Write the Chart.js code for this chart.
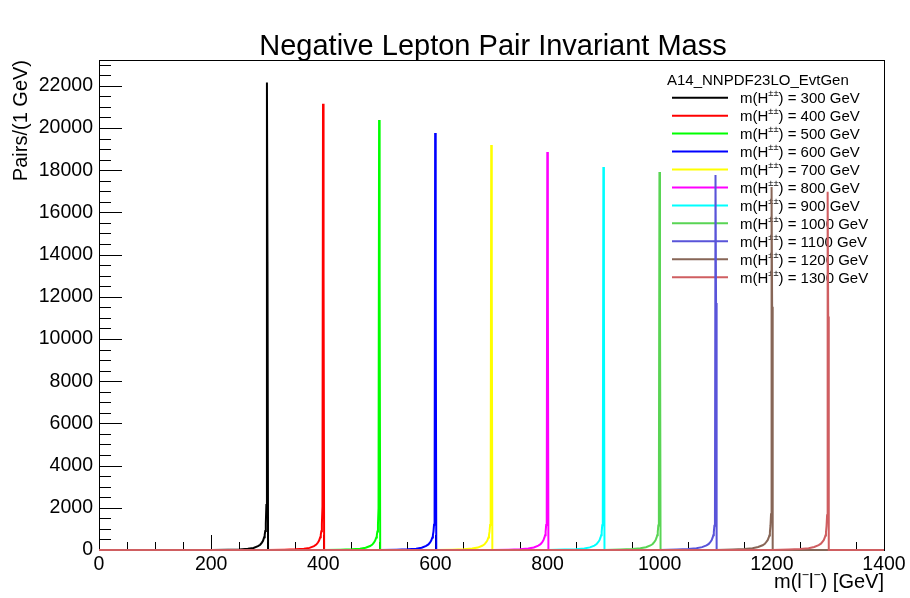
<!DOCTYPE html>
<html>
<head>
<meta charset="utf-8">
<script src="https://cdn.jsdelivr.net/npm/chart.js@4.4.1/dist/chart.umd.min.js"></script>
<style>
  body { margin: 0; background: #fff; }
  canvas { display: block; }
</style>
</head>
<body>
<canvas id="c" width="910" height="598"></canvas>
<script>
// Higgs masses (GeV) for each histogram
const masses = [300, 400, 500, 600, 700, 800, 900, 1000, 1100, 1200, 1300];
// ROOT colours 1..9, 28, 46
const seriesColors = ['#000000', '#ff0000', '#00ff00', '#0000ff', '#ffff00', '#ff00ff',
  '#00ffff', '#59d454', '#5954d9', '#876657', '#cf5e61'];
// content of the highest bin (just below the mass) and of the bin just above it
const peakCounts = [22150, 21150, 20380, 19760, 19190, 18860, 18150, 17910, 17770, 17200, 16980];
const upperBinCounts = [13660, 13190, 12800, 12650, 12600, 12370, 12100, 11990, 11700, 11530, 11060];
// low-mass tail: bins counted down from the peak bin
const tailOffsets = [1, 2, 3, 4, 5, 7, 9, 12, 16, 24, 34, 49, 69, 99];
const tailCounts = [
  [2130, 1250, 900, 720, 600, 440, 350, 250, 180, 95, 55, 28, 12, 0],
  [2050, 1230, 890, 715, 600, 445, 355, 255, 185, 100, 58, 30, 13, 0],
  [1980, 1210, 880, 710, 595, 445, 360, 260, 190, 105, 62, 32, 14, 0],
  [1930, 1200, 875, 705, 595, 450, 365, 265, 195, 110, 65, 34, 15, 0],
  [1880, 1190, 870, 705, 595, 450, 370, 270, 200, 115, 68, 36, 16, 0],
  [1830, 1180, 865, 700, 595, 455, 375, 275, 205, 120, 72, 38, 17, 0],
  [1790, 1170, 860, 700, 595, 455, 380, 280, 210, 125, 75, 40, 18, 0],
  [2350, 1160, 855, 695, 595, 460, 385, 285, 215, 130, 78, 42, 19, 0],
  [1720, 1150, 850, 695, 595, 460, 390, 290, 220, 135, 82, 44, 20, 0],
  [1690, 1140, 845, 690, 595, 465, 395, 295, 225, 140, 85, 46, 21, 0],
  [1650, 1130, 840, 690, 595, 465, 400, 300, 230, 145, 88, 48, 22, 0]
];
const xMin = 0, xMax = 1400;
const yMax = 23220;
const xTickValues = [0, 200, 400, 600, 800, 1000, 1200, 1400];
const yTickValues = [0, 2000, 4000, 6000, 8000, 10000, 12000, 14000, 16000, 18000, 20000, 22000];
const chartTitle = 'Negative Lepton Pair Invariant Mass';
const legendHeader = 'A14_NNPDF23LO_EvtGen';

const FONT = '"Liberation Sans", Arial, Helvetica, sans-serif';

// build one histogram line per mass (bin centres at m-0.5 etc.)
function buildPoints(i) {
  const m = masses[i];
  const pts = [{ x: xMin, y: 0 }];
  for (let k = tailOffsets.length - 1; k >= 0; k--) {
    pts.push({ x: m - 0.5 - tailOffsets[k], y: tailCounts[i][k] });
  }
  pts.push({ x: m - 0.5, y: peakCounts[i] });
  pts.push({ x: m + 0.5, y: upperBinCounts[i] });
  pts.push({ x: m + 1.5, y: 0 });
  pts.push({ x: xMax, y: 0 });
  return pts;
}

const datasets = masses.map((m, i) => ({
  label: 'm(H±±) = ' + m + ' GeV',
  data: buildPoints(i),
  borderColor: seriesColors[i],
  borderWidth: 2,
  pointRadius: 0,
  tension: 0,
  fill: false,
  clip: 4,
  order: masses.length - 1 - i   // last histogram drawn on top, like ROOT
}));

// text with small raised parts, e.g. ['m(H', ['±±'], ') = 300 GeV']
function drawRich(ctx, parts, x, y, size, align) {
  const supSize = size * 0.62;
  let total = 0;
  const widths = parts.map(p => {
    ctx.font = (Array.isArray(p) ? supSize : size) + 'px ' + FONT;
    const w = ctx.measureText(Array.isArray(p) ? p[0] : p).width;
    total += w;
    return w;
  });
  let cx = align === 'right' ? x - total : x;
  ctx.textAlign = 'left';
  parts.forEach((p, j) => {
    if (Array.isArray(p)) {
      ctx.font = supSize + 'px ' + FONT;
      ctx.fillText(p[0], cx, y - size * 0.45);
    } else {
      ctx.font = size + 'px ' + FONT;
      ctx.fillText(p, cx, y);
    }
    cx += widths[j];
  });
}

const rootStyle = {
  id: 'rootStyle',
  beforeDatasetsDraw(chart) {
    const { ctx, chartArea: a, scales: { x, y } } = chart;
    ctx.save();
    ctx.strokeStyle = '#000';
    ctx.lineWidth = 1;
    ctx.strokeRect(Math.round(a.left) + 0.5, Math.round(a.top) + 0.5,
      Math.round(a.right - a.left), Math.round(a.bottom - a.top));

    // inward ticks
    ctx.beginPath();
    for (let v = xMin; v <= xMax; v += 50) {
      const px = Math.round(x.getPixelForValue(v)) + 0.5;
      const len = v % 200 === 0 ? 15 : 8;
      ctx.moveTo(px, a.bottom);
      ctx.lineTo(px, a.bottom - len);
    }
    for (let v = 0; v <= yMax; v += 500) {
      const py = Math.round(y.getPixelForValue(v)) + 0.5;
      const len = v % 2000 === 0 ? 23 : 12;
      ctx.moveTo(a.left, py);
      ctx.lineTo(a.left + len, py);
    }
    ctx.stroke();

    ctx.fillStyle = '#000';
    ctx.textBaseline = 'alphabetic';
    // main title
    ctx.font = '29px ' + FONT;
    ctx.textAlign = 'center';
    ctx.fillText(chartTitle, 493, 55);

    // axis titles
    drawRich(ctx, ['m(l', ['\u2212'], 'l', ['\u2212'], ') [GeV]'], a.right, 588, 20, 'right');
    ctx.save();
    ctx.translate(27, a.top);
    ctx.rotate(-Math.PI / 2);
    ctx.font = '20px ' + FONT;
    ctx.textAlign = 'right';
    ctx.fillText('Pairs/(1 GeV)', 0, 0);
    ctx.restore();

    // legend
    ctx.font = '15px ' + FONT;
    ctx.textAlign = 'left';
    ctx.fillText(legendHeader, 667, 85);
    masses.forEach((m, i) => {
      const ry = 97.7 + 17.95 * i;
      ctx.strokeStyle = seriesColors[i];
      ctx.lineWidth = 2;
      ctx.beginPath();
      ctx.moveTo(672, ry);
      ctx.lineTo(728, ry);
      ctx.stroke();
      ctx.fillStyle = '#000';
      drawRich(ctx, ['m(H', ['±±'], ') = ' + m + ' GeV'], 740, ry + 5.5, 15, 'left');
    });
    ctx.restore();
  }
};

new Chart(document.getElementById('c'), {
  type: 'line',
  data: { datasets },
  options: {
    responsive: false,
    animation: false,
    devicePixelRatio: 1,
    layout: { padding: { left: 0, right: 26, top: 60, bottom: 0 } },
    plugins: { legend: { display: false }, tooltip: { enabled: false }, title: { display: false } },
    scales: {
      x: {
        type: 'linear',
        min: xMin,
        max: xMax,
        grid: { display: false, drawTicks: false, tickLength: 0 },
        border: { display: false },
        afterBuildTicks: s => { s.ticks = xTickValues.map(v => ({ value: v })); },
        ticks: { color: '#000', font: { family: FONT, size: 19.5 }, padding: 3, maxRotation: 0,
          autoSkip: false, callback: v => String(v) },
        afterFit: s => { s.height = 48; }
      },
      y: {
        min: 0,
        max: yMax,
        grid: { display: false, drawTicks: false, tickLength: 0 },
        border: { display: false },
        afterBuildTicks: s => { s.ticks = yTickValues.map(v => ({ value: v })); },
        ticks: { color: '#000', font: { family: FONT, size: 19.5 }, padding: 6,
          autoSkip: false, callback: v => String(v) },
        afterFit: s => { s.width = 99; }
      }
    }
  },
  plugins: [rootStyle]
});
</script>
</body>
</html>
